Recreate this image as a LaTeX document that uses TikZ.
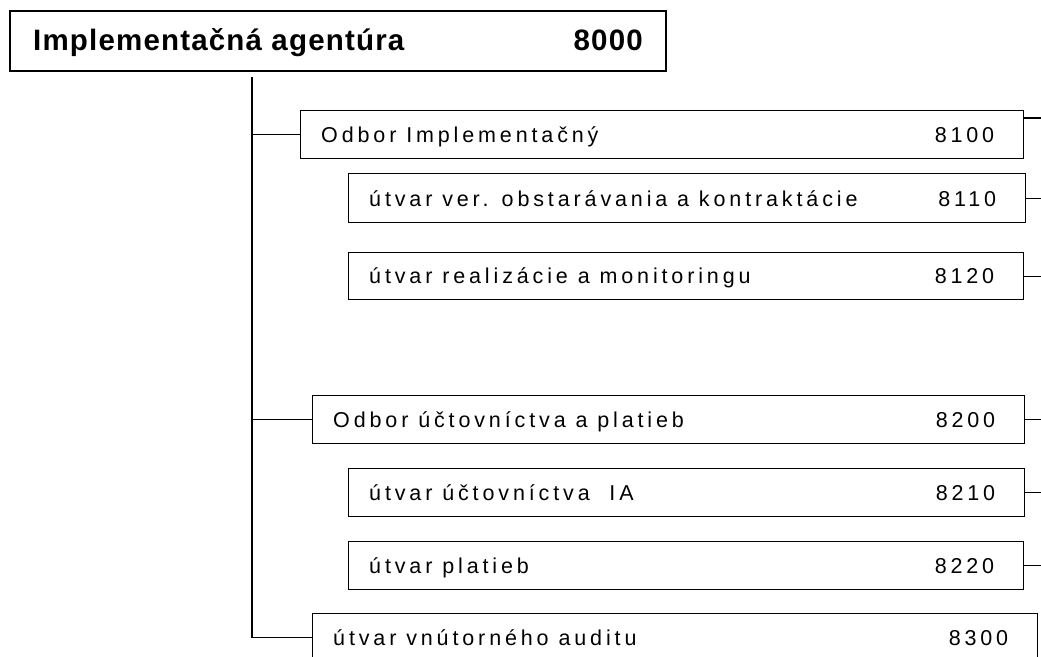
\documentclass[tikz,border=0pt]{standalone}
\usepackage{fontspec}
\setmainfont{Liberation Sans}
\newfontfamily\spacedfont[LetterSpace=18]{Liberation Sans}
\newfontfamily\headfont[LetterSpace=4]{Liberation Sans}
\begin{document}
\begin{tikzpicture}[x=1pt,y=-1pt,
  ubox/.style={draw=black,line width=1.4pt,inner sep=0pt,anchor=north west,fill=white},
  hbox/.style={draw=black,line width=2.2pt,inner sep=0pt,anchor=north west},
  utext/.style={inner sep=0pt,font=\spacedfont\fontsize{21.5}{25}\selectfont},
  htext/.style={inner sep=0pt,font=\headfont\bfseries\fontsize{29.5}{34}\selectfont},
  conn/.style={draw=black,line width=1.4pt}]
\useasboundingbox (0,0) rectangle (1041,656);
% top box
\node[hbox,minimum width=656pt,minimum height=60pt] (top) at (9,10) {};
\node[htext,anchor=base west] (toptxt) at (33,50) {Implementačná agentúra};
\node[htext,anchor=base east] (topnum) at (643,50) {8000};
% boxes
\node[ubox,minimum width=723pt,minimum height=48pt] (b8100) at (300,110) {};
\node[ubox,minimum width=677pt,minimum height=49pt] (b8110) at (348,173) {};
\node[ubox,minimum width=675pt,minimum height=47pt] (b8120) at (348,252) {};
\node[ubox,minimum width=712pt,minimum height=48pt] (b8200) at (312,395) {};
\node[ubox,minimum width=676pt,minimum height=48pt] (b8210) at (348,468) {};
\node[ubox,minimum width=675pt,minimum height=48pt] (b8220) at (348,541) {};
\node[ubox,minimum width=725pt,minimum height=48pt] (b8300) at (312,613) {};
% texts
\foreach \b/\t/\n in {8100/Odbor Implementačný/8100,
                      8110/útvar ver. obstarávania a kontraktácie/8110,
                      8120/útvar realizácie a monitoringu/8120,
                      8200/Odbor účtovníctva a platieb/8200,
                      8210/útvar účtovníctva\ \ IA/8210,
                      8220/útvar platieb/8220,
                      8300/útvar vnútorného auditu/8300}{
  \node[utext,anchor=base west] (t\b) at ([xshift=21pt,yshift=16.5pt]b\b.south west) {\t};
  \node[utext,anchor=base east] (n\b) at ([xshift=-30pt,yshift=16.5pt]b\b.south east) {\n};
}
% trunk
\coordinate (trunktop) at (252,77);
\draw[conn] (trunktop) -- (b8300.west -| trunktop);
\draw[conn] (b8100.west -| trunktop) -- (b8100.west);
\draw[conn] (b8200.west -| trunktop) -- (b8200.west);
\draw[conn] (b8300.west -| trunktop) -- (b8300.west);
% right stubs
\coordinate (edge) at (1041,0);
\coordinate (r8100) at (1041,118);
\draw[conn] (b8100.east |- r8100) -- (r8100);
\foreach \b in {8110,8120,8200,8210,8220}{
  \draw[conn] (b\b.east) -- (b\b.east -| edge);
}
\end{tikzpicture}
\end{document}
